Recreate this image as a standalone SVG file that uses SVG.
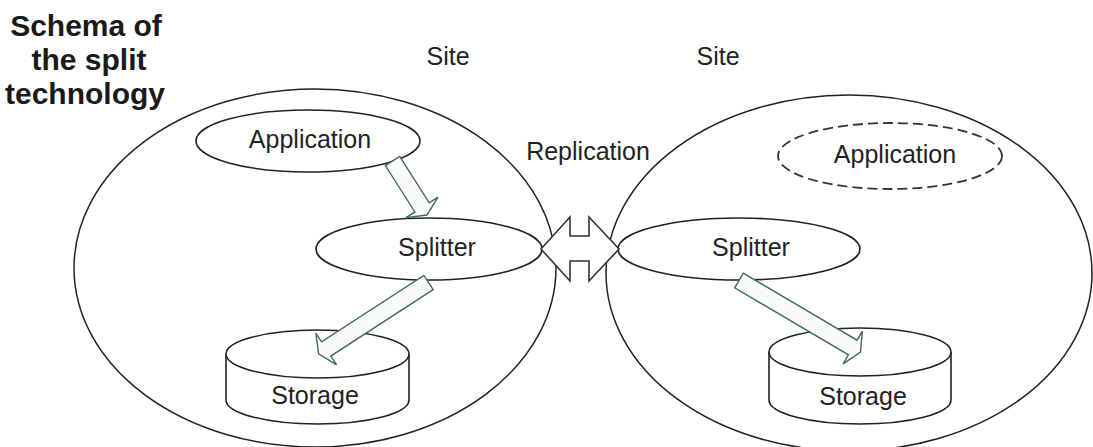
<svg xmlns="http://www.w3.org/2000/svg" width="1093" height="447" viewBox="0 0 1093 447">
<style>
.site{fill:none;stroke:#222;stroke-width:1.5}
.node{fill:#fff;stroke:#222;stroke-width:1.6}
.dash{fill:#fff;stroke:#333;stroke-width:1.8;stroke-dasharray:10 5}
.lbl{font-family:"Liberation Sans",Arial,sans-serif;font-size:25px;fill:#222;text-anchor:middle}
.title{font-family:"Liberation Sans",Arial,sans-serif;font-size:30px;font-weight:bold;fill:#1a1a1a;text-anchor:middle}
.blk{fill:#f8fbf8;stroke:#466b57;stroke-width:1.4;stroke-linejoin:miter}
.dbl{fill:#fff;stroke:#333;stroke-width:1.6}
</style>
<rect width="1093" height="447" fill="#fff"/>
<g id="title">
<text class="title" x="86" y="36">Schema of</text>
<text class="title" x="89" y="70">the split</text>
<text class="title" x="85" y="104">technology</text>
</g>
<g id="site-left">
<ellipse class="site" cx="315" cy="268" rx="241" ry="179"/>
<text class="lbl" x="448" y="65">Site</text>
</g>
<g id="site-right">
<ellipse class="site" cx="849" cy="273" rx="243" ry="178"/>
<text class="lbl" x="718" y="65">Site</text>
</g>
<g id="replication-label">
<text class="lbl" x="588" y="160">Replication</text>
</g>
<g id="app-left">
<ellipse class="node" cx="308" cy="141" rx="112" ry="31"/>
<text class="lbl" x="310" y="148">Application</text>
</g>
<g id="splitter-left">
<ellipse class="node" cx="429" cy="249" rx="113" ry="31"/>
<text class="lbl" x="437" y="256">Splitter</text>
</g>
<g id="storage-left">
<path class="node" d="M226,354 L226,400 A91.5,24 0 0 0 409,400 L409,354"/>
<ellipse class="node" cx="317.5" cy="354" rx="91.5" ry="24"/>
<text class="lbl" x="315" y="404">Storage</text>
</g>
<g id="app-right">
<ellipse class="dash" cx="890" cy="156" rx="112" ry="33"/>
<text class="lbl" x="895" y="163">Application</text>
</g>
<g id="splitter-right">
<ellipse class="node" cx="739" cy="249" rx="121" ry="31"/>
<text class="lbl" x="751" y="256">Splitter</text>
</g>
<g id="storage-right">
<path class="node" d="M769,352 L769,400 A91,24 0 0 0 951,400 L951,352"/>
<ellipse class="node" cx="860" cy="352" rx="91" ry="24"/>
<text class="lbl" x="863" y="405">Storage</text>
</g>
<g id="connectors">
<polygon class="blk" transform="translate(392.5,161) rotate(57.5)" points="0,-8.5 55,-8.5 55,-19 64,0 55,19 55,8.5 0,8.5"/>
<polygon class="blk" transform="translate(428.5,282.5) rotate(147)" points="0,-8.5 122,-8.5 122,-19 131,0 122,19 122,8.5 0,8.5"/>
<polygon class="blk" transform="translate(739,280.5) rotate(30.5)" points="0,-8.5 132,-8.5 132,-19 141,0 132,19 132,8.5 0,8.5"/>
<polygon class="dbl" points="541,249 570,217 570,236 589,236 589,217 619,249 589,281 589,261 570,261 570,281"/>
</g>
</svg>
